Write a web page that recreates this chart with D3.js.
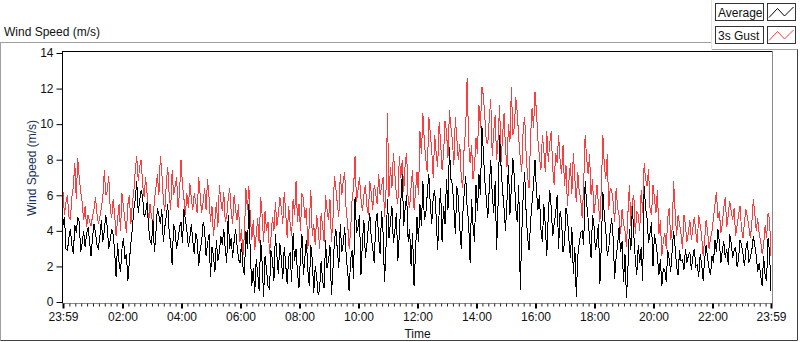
<!DOCTYPE html>
<html>
<head>
<meta charset="utf-8">
<script src="https://cdn.jsdelivr.net/npm/d3@7"></script>
<style>
  html, body { margin: 0; padding: 0; background: #fff; }
  svg { display: block; }
  text { font-family: "Liberation Sans", Arial, sans-serif; font-size: 12px; }
</style>
</head>
<body>
<svg id="chart" width="800" height="342"></svg>
<script>
// ---------------- DATA ----------------
const chartTitle = "Wind Speed (m/s)";
const xAxisTitle = "Time";
const yAxisTitle = "Wind Speed (m/s)";
const seriesNames = ["Average", "3s Gust"];
const sampleMinutes = 3; // one sample every 3 minutes, starting 23:59
const startTime = new Date(2000, 0, 1, 23, 59);
const endTime = new Date(2000, 0, 2, 23, 59);
const xTickLabels = ["23:59", "02:00", "04:00", "06:00", "08:00", "10:00", "12:00",
                     "14:00", "16:00", "18:00", "20:00", "22:00", "23:59"];
const yTicks = [0, 2, 4, 6, 8, 10, 12, 14];

const gust = [
  6.2,4.9, 5.6,6.0, 4.8,4.6, 5.9,6.5, 7.8,5.8, 8.1,7.0, 6.2,5.6, 4.6,5.4, 4.2,4.9, 4.5,4.3,
  4.8,5.2, 5.9,5.0, 4.4,4.8, 5.3,5.9, 7.4,6.0, 6.2,7.1, 5.3,4.7, 5.8,4.9, 3.7,4.6, 5.5,4.0,
  6.1,5.3, 4.6,3.9, 5.5,6.0, 4.4,5.5, 6.2,7.4, 8.2,6.8, 7.6,8.0, 6.6,5.9, 7.0,6.1, 4.4,5.5,
  4.8,4.4, 5.8,6.4, 7.2,6.0, 8.2,7.3, 5.8,5.1, 6.6,7.6, 6.0,5.2, 7.4,6.0, 6.5,7.0, 5.3,6.1,
  8.0,6.6, 5.8,4.9, 6.1,5.3, 6.7,5.8, 5.2,6.1, 5.6,5.0, 7.0,6.0, 5.0,5.6, 6.4,5.2, 6.9,5.9,
  4.5,5.4, 3.7,4.6, 5.6,4.2, 6.6,5.7, 5.1,6.2, 4.5,4.8, 5.8,6.4, 5.1,4.4, 6.0,5.2, 4.6,5.5,
  3.4,4.1, 2.6,3.8, 6.4,5.2, 6.5,4.8, 3.5,4.6, 2.9,3.8, 4.7,3.3, 5.9,4.9, 3.4,5.1, 4.0,4.5,
  2.7,3.6, 4.8,4.0, 5.6,4.3, 4.9,5.9, 5.3,4.4, 6.2,5.0, 3.6,5.4, 4.4,3.7, 5.8,4.9,
  6.8,4.5, 5.5,4.0, 6.1,5.8, 4.7,5.3, 3.0,4.4, 6.3,3.7, 4.4,3.2, 4.9,4.1, 3.0,5.0, 4.3,3.4,
  6.0,5.2, 4.6,5.8, 3.4,4.6, 7.1,6.4, 5.5,4.8, 7.2,6.0, 6.8,7.3, 5.1,4.4, 3.0,4.0, 5.8,6.4,
  8.2,5.6, 6.3,7.0, 5.8,5.1, 6.0,6.6, 5.4,4.9, 6.8,6.1, 5.2,6.6, 6.1,5.5, 7.2,6.0, 6.5,7.0,
  4.8,6.3, 10.6,5.9, 7.6,6.4, 8.4,7.2, 6.0,5.5, 8.2,7.0, 8.0,6.2, 7.8,8.4, 5.7,5.3,
  6.5,7.4, 5.2,6.2, 7.3,6.0, 9.6,8.3, 10.6,9.0, 8.0,7.3, 10.4,9.5, 8.5,7.0, 9.4,8.4, 7.6,10.1,
  9.0,7.4, 8.3,10.2, 9.6,8.1, 10.8,9.8, 9.1,7.7, 10.4,9.2, 8.0,8.9, 7.0,6.4, 8.8,9.7, 12.6,9.0,
  7.8,8.8, 6.9,7.6, 9.2,8.3, 11.1,9.8, 12.1,11.6, 10.4,9.0, 8.9,10.3, 11.4,8.2, 9.6,10.5, 8.0,9.2,
  11.1,7.9, 9.3,10.6, 8.6,7.6, 10.0,9.0, 12.1,9.4, 9.8,11.5, 10.6,9.2, 8.1,7.3, 9.7,10.4,
  8.3,7.0, 6.4,9.3, 10.9,9.8, 11.8,10.7, 9.1,8.2, 7.4,9.4, 8.5,7.3, 9.6,7.9, 8.9,9.6, 7.5,6.6,
  8.4,7.8, 9.4,8.0, 7.2,8.8, 6.5,7.7, 5.4,6.8, 7.8,6.1, 8.4,7.0, 5.6,7.3, 6.2,5.8, 4.7,6.6,
  9.4,8.1, 7.2,8.3, 6.0,6.9, 5.0,5.7, 6.6,5.5, 4.5,6.4, 9.4,7.7, 6.9,8.3, 5.2,6.4, 6.3,5.6,
  4.5,6.4, 5.3,4.9, 3.8,5.2, 4.4,4.0, 3.1,5.0, 6.6,4.3, 5.7,6.0, 3.8,5.1, 4.9,4.0,
  6.3,5.0, 7.8,6.9, 6.5,7.5, 5.2,4.9, 6.6,5.8, 5.0,6.3, 3.8,4.6, 2.6,3.4, 3.9,3.0, 4.7,5.3,
  3.5,4.1, 6.8,5.1, 3.7,4.9, 4.4,3.8, 3.0,4.9, 4.3,3.4, 3.9,4.6, 3.5,4.1, 4.8,3.9, 3.3,4.9,
  4.3,3.7, 2.6,3.5, 4.6,4.0, 3.0,3.6, 4.0,4.7, 5.5,6.2, 4.7,5.1, 3.9,4.4, 5.3,5.9, 4.2,4.9,
  5.7,5.1, 4.6,5.3, 3.7,4.3, 4.9,5.4, 4.1,3.6, 4.5,5.2, 4.8,4.2, 3.6,4.4, 5.8,5.0, 4.0,4.7,
  3.8,3.4, 2.7,3.2, 4.3,3.6, 5.0,4.7, 2.6
];

const average = [
  4.3,4.8, 3.0,2.9, 3.6,4.1, 3.2,2.7, 4.3,3.9, 4.8,4.5, 2.8,3.3, 4.0,3.1, 3.8,4.2, 3.4,2.6,
  3.6,4.4, 3.9,3.2, 3.0,3.7, 4.6,3.4, 4.0,4.9, 4.2,3.0, 3.5,4.1, 3.8,2.9, 1.4,3.3, 2.2,1.7,
  3.0,3.6, 2.4,2.7, 1.2,2.3, 3.3,4.1, 5.2,5.8, 6.8,5.0, 5.7,6.3, 5.9,4.8, 5.0,5.6, 4.2,3.5,
  3.2,4.6, 2.8,3.9, 5.3,4.9, 4.4,5.2, 3.4,4.2, 4.8,5.5, 3.9,3.3, 2.1,4.4, 4.0,3.0, 3.5,4.2,
  4.5,3.3, 5.2,4.6, 4.0,3.1, 3.6,4.4, 3.4,2.7, 3.9,3.5, 2.0,3.0, 3.4,4.5, 4.1,2.6, 3.3,3.8,
  1.4,3.1, 2.6,1.7, 3.5,2.3, 2.8,3.7, 3.2,4.1, 3.0,2.2, 4.9,3.0, 3.6,2.5, 3.4,4.1, 3.2,2.4,
  2.2,3.3, 2.0,1.5, 4.0,3.0, 5.5,2.7, 0.9,1.9, 0.5,2.4, 1.6,0.6, 3.5,2.2, 0.3,2.6, 1.8,0.9,
  0.7,2.9, 2.4,1.2, 3.8,2.6, 1.6,3.3, 2.5,1.3, 3.1,2.1, 1.0,2.5, 2.8,1.1, 3.9,2.3,
  3.0,1.6, 0.8,2.6, 3.8,1.5, 2.5,3.5, 1.8,0.9, 3.2,2.4, 0.5,2.0, 1.4,0.4, 0.7,2.3, 1.2,0.8,
  3.5,1.9, 2.3,3.2, 0.4,1.8, 3.4,4.1, 2.9,1.9, 4.4,2.8, 3.3,4.2, 2.6,1.7, 0.6,2.4, 2.9,1.3,
  5.9,3.9, 4.2,4.9, 1.5,3.4, 4.6,2.5, 3.2,4.2, 5.0,3.6, 3.0,2.2, 4.4,5.0, 3.6,2.7, 5.1,3.9,
  1.1,3.1, 5.8,3.6, 4.5,5.4, 3.3,4.0, 5.0,2.3, 3.8,5.6, 7.2,4.3, 5.3,6.0, 3.4,4.1,
  2.0,3.9, 0.9,2.8, 4.8,3.4, 5.5,4.3, 6.8,4.6, 5.0,6.1, 7.2,5.5, 4.4,5.9, 6.3,4.8, 2.9,5.0,
  6.4,3.4, 5.4,4.4, 6.9,5.2, 8.7,6.9, 6.6,5.3, 3.8,6.5, 5.9,4.2, 3.0,4.9, 6.1,7.1, 5.3,4.5,
  2.2,5.8, 4.3,3.4, 6.6,5.1, 7.2,6.0, 9.9,8.4, 6.8,5.8, 4.7,6.4, 8.0,6.1, 5.0,6.8, 2.9,5.6,
  9.4,7.6, 6.3,5.3, 4.0,5.7, 7.7,4.9, 6.5,8.1, 7.0,5.2, 4.5,6.6, 0.7,3.8, 6.0,7.3,
  5.0,3.6, 2.9,4.5, 5.6,6.6, 8.0,6.2, 5.2,6.0, 4.1,3.4, 5.5,4.3, 2.6,4.9, 6.3,5.3, 3.7,4.4,
  5.0,6.0, 3.0,5.1, 4.6,2.8, 3.3,5.3, 4.8,3.5, 2.5,4.2, 1.6,3.1, 0.3,2.6, 3.3,3.9, 4.0,3.2,
  6.8,5.6, 4.7,3.6, 2.5,4.9, 4.3,2.9, 3.5,4.4, 1.0,3.3, 6.2,4.9, 4.0,2.6, 3.0,4.0, 4.7,3.6,
  1.3,2.5, 3.2,4.2, 2.8,3.4, 1.1,2.7, 0.2,1.9, 4.1,2.9, 5.4,3.8, 2.4,1.5, 3.2,2.2,
  3.1,1.2, 6.5,5.3, 4.7,3.3, 3.9,4.5, 2.0,3.8, 3.3,2.6, 1.5,2.4, 0.9,1.9, 1.8,1.1, 2.9,2.4,
  1.7,2.9, 4.0,3.1, 2.0,1.5, 2.9,2.3, 2.4,1.8, 3.0,2.2, 2.6,2.8, 1.8,2.5, 3.0,2.0, 2.1,1.4,
  2.7,2.1, 1.2,2.4, 3.2,2.5, 1.9,1.5, 2.6,2.2, 3.5,2.8, 4.1,3.4, 2.2,2.9, 3.4,2.5, 3.0,2.1,
  3.8,3.3, 2.5,2.9, 3.1,2.0, 2.4,3.5, 3.2,2.7, 2.0,3.0, 3.4,2.2, 2.5,2.9, 3.7,3.2, 2.6,1.7,
  2.2,1.5, 0.9,2.6, 1.5,1.2, 3.6,2.8, 0.6
];

// ---------------- LAYOUT ----------------
const svg = d3.select("#chart");
const plot = { left: 62, right: 773, top: 51, bottom: 303 };

const x = d3.scaleTime().domain([startTime, endTime]).range([63, 771]);
const y = d3.scaleLinear().domain([0, 14]).range([302, 53]);

const timeOf = i => new Date(startTime.getTime() + i * sampleMinutes * 60000);

// outer frame
const frame = svg.append("g");
frame.append("line").attr("x1", 0).attr("x2", 712).attr("y1", 42.5).attr("y2", 42.5).attr("stroke", "#a0a0a0");
frame.append("line").attr("x1", 0.5).attr("x2", 0.5).attr("y1", 42.5).attr("y2", 340.5).attr("stroke", "#a0a0a0");
frame.append("line").attr("x1", 0.5).attr("x2", 797.5).attr("y1", 340.5).attr("y2", 340.5).attr("stroke", "#404040");
frame.append("line").attr("x1", 797.5).attr("x2", 797.5).attr("y1", 49).attr("y2", 340.5).attr("stroke", "#404040");
frame.append("line").attr("x1", 712).attr("x2", 797.5).attr("y1", 49.5).attr("y2", 49.5).attr("stroke", "#a0a0a0");
frame.append("line").attr("x1", 711.5).attr("x2", 711.5).attr("y1", 0).attr("y2", 49.5).attr("stroke", "#e4e4e4");

// title
svg.append("text").attr("x", 4).attr("y", 36).attr("fill", "#111").text(chartTitle);

// plot area
svg.append("rect").attr("x", plot.left).attr("y", plot.top)
  .attr("width", plot.right - plot.left).attr("height", plot.bottom - plot.top).attr("fill", "#fff");

// series
svg.append("clipPath").attr("id", "clip").append("rect")
  .attr("x", plot.left).attr("y", plot.top).attr("width", plot.right - plot.left).attr("height", plot.bottom - plot.top);

const line = d3.line().x((d, i) => x(timeOf(i))).y(d => y(d));
const gSeries = svg.append("g").attr("clip-path", "url(#clip)");
gSeries.append("path").datum(gust).attr("d", line)
  .attr("fill", "none").attr("stroke", "#ff3c3c").attr("stroke-width", 1)
  .attr("shape-rendering", "crispEdges");
gSeries.append("path").datum(average).attr("d", line)
  .attr("fill", "none").attr("stroke", "#000").attr("stroke-width", 1)
  .attr("shape-rendering", "crispEdges");

// plot borders
svg.append("line").attr("x1", plot.left).attr("x2", plot.right).attr("y1", plot.top + 0.5).attr("y2", plot.top + 0.5).attr("stroke", "#000");
svg.append("line").attr("x1", plot.left + 0.5).attr("x2", plot.left + 0.5).attr("y1", plot.top).attr("y2", plot.bottom).attr("stroke", "#000");
svg.append("line").attr("x1", plot.right - 0.5).attr("x2", plot.right - 0.5).attr("y1", plot.top).attr("y2", plot.bottom).attr("stroke", "#8a8a8a");

// y axis
const yAxis = d3.axisLeft(y).tickValues(yTicks).tickSize(6).tickPadding(3).tickFormat(d3.format("d"));
const gy = svg.append("g").attr("transform", `translate(${plot.left + 0.5},0)`).call(yAxis);
gy.select(".domain").remove();
gy.selectAll(".tick line").attr("stroke", "#000");
gy.selectAll(".tick text").attr("fill", "#111").style("font-size", "12px").style("font-family", "'Liberation Sans', Arial, sans-serif");

// x axis
const majorTimes = [startTime];
for (let h = 2; h <= 22; h += 2) majorTimes.push(new Date(2000, 0, 2, h, 0));
majorTimes.push(endTime);
const minorTimes = [];
for (let m = 12; m < 1440; m += 12) {
  const t = new Date(2000, 0, 2, 0, m);
  if (t < endTime && m % 120 !== 0) minorTimes.push(t);
}
const axisY = plot.bottom + 0.5;
svg.append("line").attr("x1", plot.left).attr("x2", plot.right).attr("y1", axisY).attr("y2", axisY).attr("stroke", "#8a8a8a");
const gxMinor = svg.append("g").attr("transform", `translate(0,${axisY})`)
  .call(d3.axisBottom(x).tickValues(minorTimes).tickSize(3).tickFormat(""));
gxMinor.select(".domain").remove();
gxMinor.selectAll(".tick line").attr("stroke", "#222");
const gx = svg.append("g").attr("transform", `translate(0,${axisY})`)
  .call(d3.axisBottom(x).tickValues(majorTimes).tickSize(5).tickPadding(4)
    .tickFormat((d, i) => xTickLabels[i]));
gx.select(".domain").remove();
gx.selectAll(".tick line").attr("stroke", "#000").attr("stroke-width", 2);
gx.selectAll(".tick text").attr("fill", "#111").style("font-size", "12px").style("font-family", "'Liberation Sans', Arial, sans-serif");

// axis titles
svg.append("text").attr("x", (plot.left + plot.right) / 2).attr("y", 338).attr("text-anchor", "middle")
  .attr("fill", "#111").text(xAxisTitle);
svg.append("text").attr("transform", "translate(36,168) rotate(-90)").attr("text-anchor", "middle")
  .attr("fill", "#173356").text(yAxisTitle);

// legend
const legendColors = ["#000", "#ff3c3c"];
const legend = svg.append("g");
seriesNames.forEach((name, i) => {
  const yy = 3.5 + i * 23;
  legend.append("rect").attr("x", 715.5).attr("y", yy).attr("width", 48).attr("height", 17)
    .attr("fill", "#fff").attr("stroke", "#333");
  legend.append("text").attr("x", 718).attr("y", yy + 13).attr("fill", "#111").text(name);
  legend.append("rect").attr("x", 767.5).attr("y", yy).attr("width", 28).attr("height", 17)
    .attr("fill", "#fff").attr("stroke", "#333");
  legend.append("polyline")
    .attr("points", [[769, yy + 14], [777.5, yy + 5], [784.5, yy + 12.5], [793.5, yy + 3.5]].map(p => p.join(",")).join(" "))
    .attr("fill", "none").attr("stroke", legendColors[i]).attr("stroke-width", 1);
});
</script>
</body>
</html>
